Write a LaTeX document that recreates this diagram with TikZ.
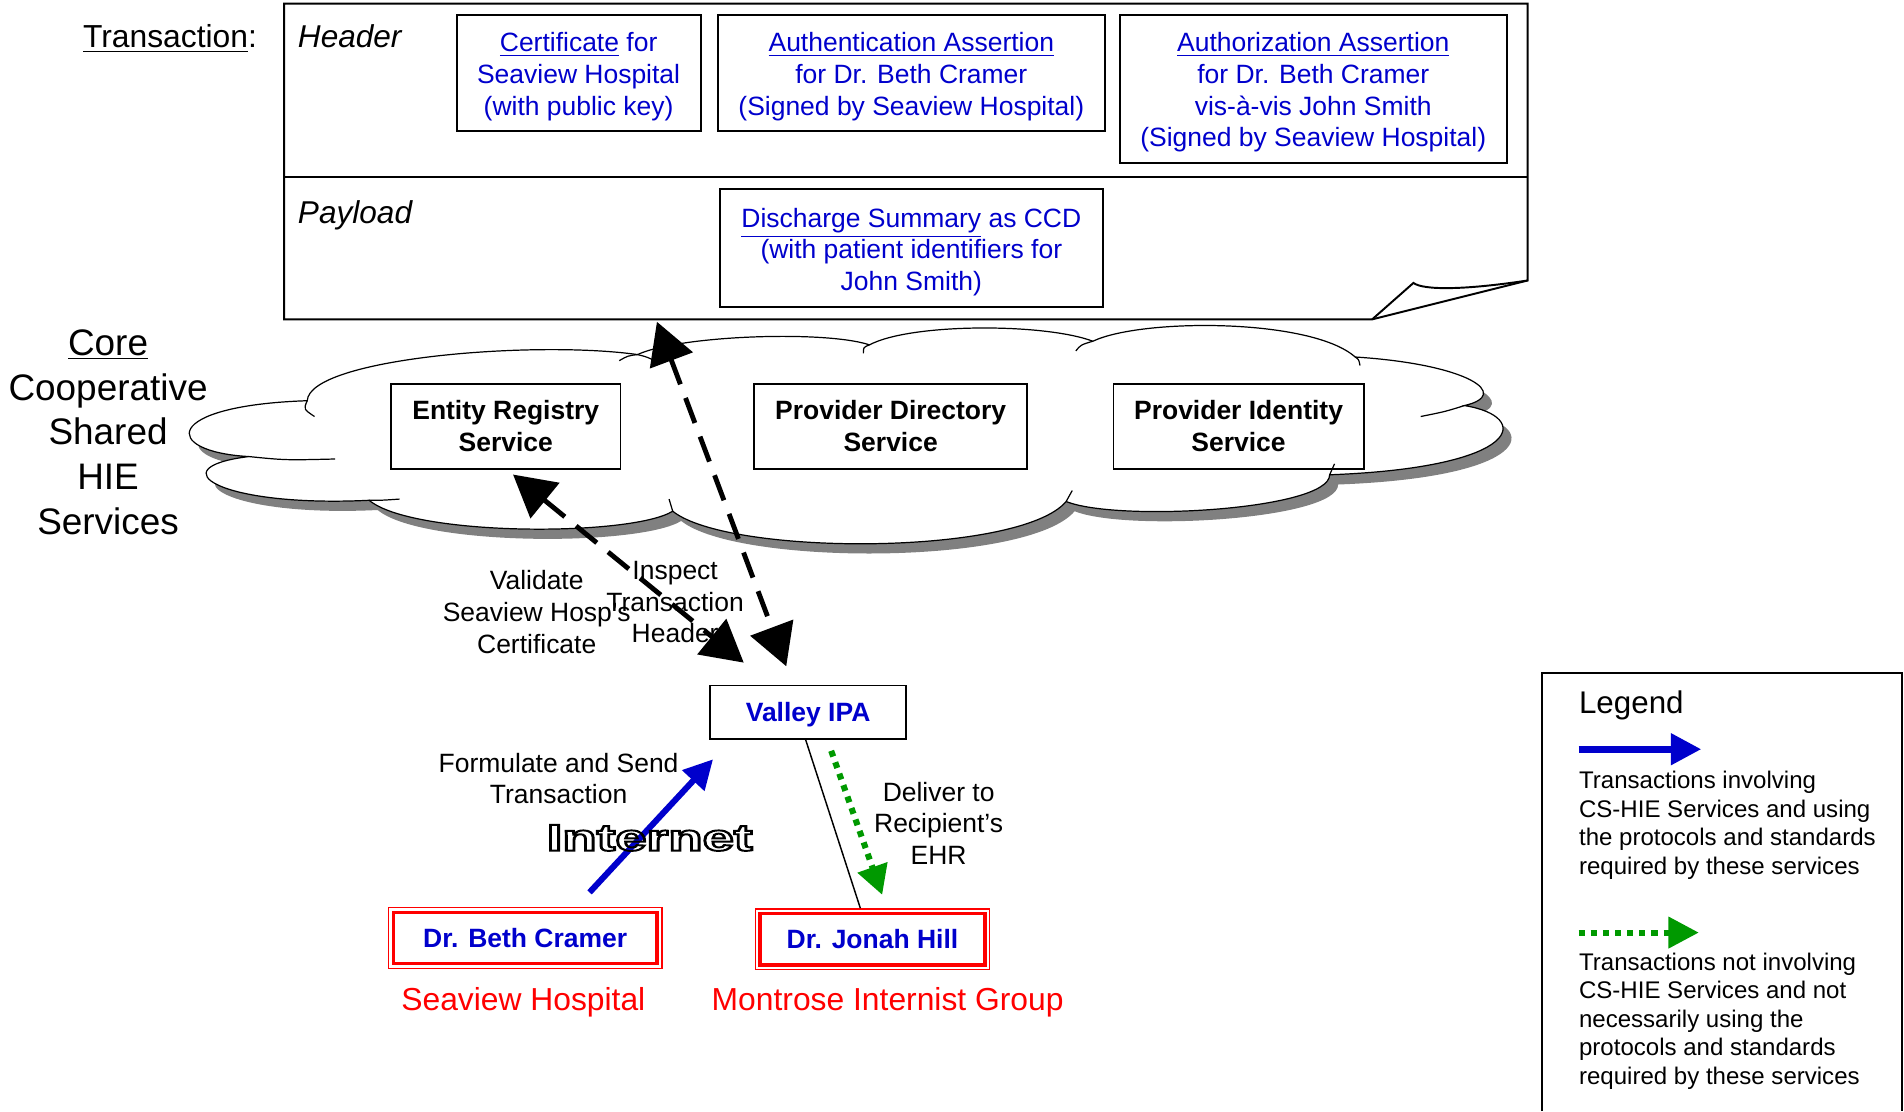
\documentclass[tikz,border=0pt]{standalone}
\usepackage{fontspec}
\setmainfont{Liberation Sans}
\usepackage{xcolor}
\usetikzlibrary{arrows.meta,calc}

\definecolor{hieblue}{RGB}{0,0,204}
\definecolor{hiegreen}{RGB}{0,153,0}
\definecolor{hiered}{RGB}{255,0,0}
\definecolor{hiegrey}{RGB}{128,128,128}

\newcommand{\hiecloud}{(205,376) .. controls (133,372) and (133,334) .. (253,330)
  .. controls (255,295) and (440,280) .. (525,292)
  .. controls (560,276) and (680,272) .. (716,284)
  .. controls (750,266) and (860,266) .. (900,281)
  .. controls (940,262) and (1080,262) .. (1116,294)
  .. controls (1210,300) and (1245,325) .. (1206,334)
  .. controls (1262,343) and (1255,385) .. (1095,391)
  .. controls (1095,420) and (920,430) .. (878,413)
  .. controls (840,458) and (600,458) .. (554,421)
  .. controls (520,442) and (340,442) .. (304,412)
  .. controls (180,418) and (130,385) .. (205,376) -- cycle}
\newcommand{\outlinetext}[1]{\special{pdf:literal direct 1 Tr 0.8 w}#1\special{pdf:literal direct 0 Tr}}
\newcommand{\docstrut}{\rule{0pt}{11pt}}

\begin{document}
\begin{tikzpicture}[x=0.5pt,y=-0.5pt,
  docbox/.style={draw,line width=0.8pt,align=center,inner sep=0pt,text=hieblue,font=\fontsize{10.9}{13}\selectfont},
  svcbox/.style={draw,line width=0.8pt,align=center,inner sep=0pt,minimum height=35pt,font=\fontsize{10.9}{13}\selectfont\bfseries},
  drbox/.style={draw=hiered,line width=0.6pt,inner sep=0pt,minimum height=25pt,text height=7.9pt,text depth=0pt,text=hieblue,font=\fontsize{10.9}{13}\selectfont\bfseries},
  actlabel/.style={align=center,inner sep=0pt,font=\fontsize{10.9}{13}\selectfont},
  orglabel/.style={anchor=base,inner sep=0pt,text=hiered,font=\fontsize{13.1}{16}\selectfont},
  legtext/.style={align=left,anchor=west,inner sep=0pt,font=\fontsize{9.9}{11.75}\selectfont},
  cloudline/.style={line width=0.5pt},
  dasharrow/.style={line width=2pt,dash pattern=on 11pt off 6pt,{Triangle[length=17pt,width=18.5pt]}-{Triangle[length=17pt,width=18.5pt]}},
  bluearrow/.style={draw=hieblue,line width=2.5pt,-{Triangle[length=12pt,width=12pt]}},
  dotarrow/.style={draw=hiegreen,line width=2.5pt,dash pattern=on 2.5pt off 2.5pt,-{Triangle[length=12pt,width=12.5pt]}}]
\useasboundingbox (0,0) rectangle (1568,915);

\node[anchor=base west,inner sep=0pt,font=\fontsize{13.1}{16}\selectfont] (trans) at (68,39.4) {\underline{Transaction}:};
\draw[line width=0.8pt] (1130,263) -- (234,263) -- (234,3) -- (1258,3) -- (1258,231) -- cycle;
\draw[line width=0.8pt] (234,146) -- (1258,146);
\draw[line width=0.8pt] (1130,263) -- (1164,233) .. controls (1172,239) and (1205,239) .. (1258,231);
\node[anchor=base west,inner sep=0pt,font=\fontsize{13}{16}\selectfont\itshape] (header) at (245,39.4) {Header};
\node[anchor=base west,inner sep=0pt,font=\fontsize{13}{16}\selectfont\itshape] (payload) at (245,184.4) {Payload};
\coordinate (payloadtip) at (541,265);

\node[docbox,minimum width=100.5pt,minimum height=48pt] (cert) at (476.5,60) {\docstrut\underline{Certificate} for\\Seaview Hospital\\(with public key)};
\node[docbox,minimum width=159.5pt,minimum height=48pt] (authn) at (750.5,60) {\docstrut\underline{Authentication Assertion}\\for Dr. Beth Cramer\\(Signed by Seaview Hospital)};
\node[docbox,minimum width=159.5pt,minimum height=61pt] (authz) at (1081.5,73) {\docstrut\underline{Authorization Assertion}\\for Dr. Beth Cramer\\vis-à-vis John Smith\\(Signed by Seaview Hospital)};
\node[docbox,minimum width=157.5pt,minimum height=48.5pt] (disch) at (750.5,204.5) {\docstrut\underline{Discharge Summary} as CCD\\(with patient identifiers for\\John Smith)};

\fill[hiegrey,shift={(7,8)}] \hiecloud;
\draw[cloudline,fill=white] \hiecloud;
\draw[cloudline] (205,376) .. controls (235,379) .. (276,378);
\draw[cloudline] (253,330) .. controls (250,337) .. (259,343);
\draw[cloudline] (525,292) .. controls (533,294) .. (541,298);
\draw[cloudline] (525,292) .. controls (517,293) .. (510,297);
\draw[cloudline] (716,284) .. controls (711,286) .. (711,291);
\draw[cloudline] (900,281) .. controls (890,284) .. (886,289);
\draw[cloudline] (1116,294) .. controls (1119,296) .. (1120,301);
\draw[cloudline] (1206,334) .. controls (1190,339) .. (1170,343);
\draw[cloudline] (1095,391) .. controls (1097,386) .. (1099,382);
\draw[cloudline] (878,413) .. controls (880,408) .. (883,404);
\draw[cloudline] (554,421) .. controls (553,416) .. (551,411);
\draw[cloudline] (304,412) .. controls (315,412) .. (329,411);

\node[align=center,inner sep=0pt,font=\fontsize{15.2}{18.5}\selectfont] (core) at (89,356) {\underline{Core}\\Cooperative\\Shared\\HIE\\Services};
\node[svcbox,minimum width=94.5pt] (entity) at (416.5,351) {Entity Registry\\Service};
\node[svcbox,minimum width=112.5pt] (provdir) at (733.5,351) {Provider Directory\\Service};
\node[svcbox,minimum width=103pt] (provid) at (1020,351) {Provider Identity\\Service};

\node[svcbox,minimum width=80.5pt,minimum height=22pt,text height=7.9pt,text depth=0pt,text=hieblue] (ipa) at (665.5,586.5) {Valley IPA};
\node[drbox,minimum width=112.5pt] (beth) at (432.5,772.5) {Dr. Beth Cramer};
\node[drbox,minimum width=96.5pt] (jonah) at (718.5,773.5) {Dr. Jonah Hill};
\foreach \dr in {beth,jonah}
  \draw[hiered,line width=1.4pt] ($(\dr.north west)+(4.5,4.5)$) rectangle ($(\dr.south east)+(-4.5,-4.5)$);
\node[orglabel] (seaview) at (431,832.4) {Seaview Hospital};
\node[orglabel] (montrose) at (731,832.4) {Montrose Internist Group};

\node[actlabel] (validate) at (442,504) {Validate\\Seaview Hosp’s\\Certificate};
\node[actlabel] (inspect) at (556,496) {Inspect\\Transaction\\Header};
\node[actlabel] (formulate) at (460,641) {Formulate and Send\\Transaction};
\node[actlabel] (deliver) at (773,678) {Deliver to\\Recipient’s\\EHR};

\draw[dasharrow] (payloadtip) -- ($(ipa.north)+(-18,-15)$);
\draw[dasharrow] ($(entity.south)+(6,4)$) -- ($(ipa.north)+(-53,-18)$);
\draw[bluearrow] ($(beth.north)+(53,-12)$) -- ($(ipa.south west)+(3,16)$);
\draw[line width=0.6pt] ($(ipa.south)+(-2,0)$) -- ($(jonah.north)+(-10,0)$);
\draw[dotarrow] ($(ipa.south)+(19,9)$) -- ($(jonah.north)+(8,-11)$);
\node[inner sep=0pt,font=\fontsize{15.4}{18}\selectfont\bfseries] (internet) at (535,690) {\scalebox{1.5}[1]{\outlinetext{Internet}}};

\draw[line width=0.8pt] (1270,915) -- (1270,554) -- (1566,554) -- (1566,915);
\node[anchor=base west,inner sep=0pt,font=\fontsize{12.9}{15}\selectfont] (legend) at (1300,587.3) {Legend};
\coordinate (legbluea) at (1300,617);
\coordinate (legblueb) at (1401,617);
\draw[bluearrow,line width=2.75pt,-{Triangle[length=12.5pt,width=12.5pt]}] (legbluea) -- (legblueb);
\node[legtext] (legsolid) at (1300,679.5) {Transactions involving\\CS-HIE Services and using\\the protocols and standards\\required by these services};
\coordinate (leggreena) at (1300,768);
\coordinate (leggreenb) at (1399,768);
\draw[dotarrow,-{Triangle[length=12.5pt,width=12.5pt]}] (leggreena) -- (leggreenb);
\node[legtext] (legdotted) at (1300,841) {Transactions not involving\\CS-HIE Services and not\\necessarily using the\\protocols and standards\\required by these services};
\end{tikzpicture}
\end{document}
